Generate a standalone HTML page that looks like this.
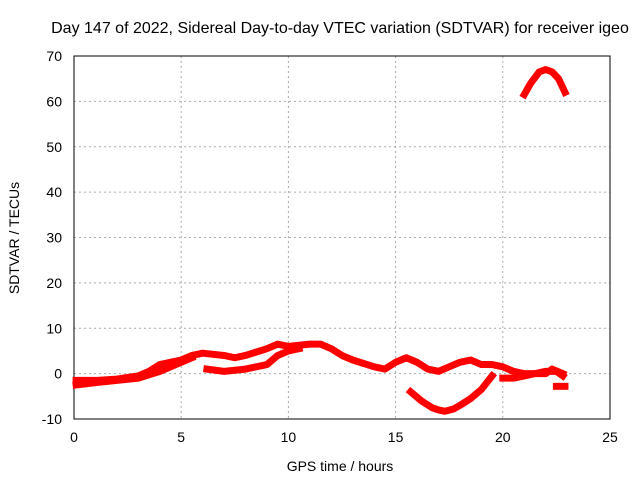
<!DOCTYPE html>
<html><head><meta charset="utf-8"><style>
body{margin:0;background:#fff}
svg{display:block;font-family:"Liberation Sans",sans-serif;font-size:14px}
</style></head><body>
<svg id="c" width="640" height="480"></svg>
<script>
const xTicks=[0,5,10,15,20,25];
const yTicks=[-10,0,10,20,30,40,50,60,70];
const trackMainX=[0.1,1,2,3,3.5,4,5,5.5,6,7,7.5,8,9,9.5,10,11,11.5,12,12.5,13,14,14.5,15,15.5,16,16.5,17,17.5,18,18.5,19,19.5,20,20.5,21,21.5,22,22.5,22.8];
const trackMainY=[-1.5,-1.5,-1.2,-0.5,0.5,2,3,4,4.5,4,3.5,4,5.5,6.5,6,6.5,6.5,5.5,4,3,1.5,1,2.5,3.5,2.5,1,0.5,1.5,2.5,3,2,2,1.5,0.5,0,0,0.5,0.5,-0.5];
const trackLowX=[0.1,1,2,3,4,5,5.5];
const trackLowY=[-2.5,-2,-1.5,-1,0.5,2.5,3.5];
const trackMidX=[6.2,7,8,9,9.5,10,10.5];
const trackMidY=[1,0.5,1,2,4,5,5.5];
const trackEndX=[20,20.5,21,21.5,22,22.3,22.8];
const trackEndY=[-1,-1,-0.5,0,0,1,0];
const trackDipX=[15.7,16.2,16.7,17,17.3,17.7,18,18.5,19,19.5];
const trackDipY=[-4,-6,-7.5,-8,-8.3,-7.8,-7,-5.5,-3.5,-0.5];
const trackArcX=[21,21.3,21.7,22,22.3,22.6,22.9];
const trackArcY=[61.5,64,66.5,67,66.5,65,62];
const trackTailX=[22.5,22.9];
const trackTailY=[-2.8,-2.8];
const L=74,R=610,T=56,B=419;
const sx=v=>L+(v-0)/25*(R-L);
const sy=v=>B-(v+10)/80*(B-T);
const s=document.getElementById('c');const NS='http://www.w3.org/2000/svg';
function mk(t,a,txt){const e=document.createElementNS(NS,t);for(const k in a)e.setAttribute(k,a[k]);if(txt!=null)e.textContent=txt;s.appendChild(e);return e;}
xTicks.forEach(v=>{const g=mk('line',{x1:sx(v),x2:sx(v),y1:T,y2:B,stroke:'#aaa','stroke-dasharray':'2,3'});


const t=mk('text',{x:sx(v),y:B+23,'text-anchor':'middle'},v);

});
yTicks.forEach(v=>{const g=mk('line',{x1:L,x2:R,y1:sy(v),y2:sy(v),stroke:'#aaa','stroke-dasharray':'2,3'});


const t=mk('text',{x:L-12,y:sy(v)+5,'text-anchor':'end'},v);

});
const fr=mk('rect',{x:L,y:T,width:R-L,height:B-T,fill:'none',stroke:'#000'});


[[trackMainX,trackMainY],[trackLowX,trackLowY],[trackMidX,trackMidY],[trackEndX,trackEndY],[trackDipX,trackDipY],[trackArcX,trackArcY],[trackTailX,trackTailY]].forEach(([xs,ys])=>{
const p=mk('polyline',{points:xs.map((x,i)=>sx(x)+','+sy(ys[i])).join(' '),fill:'none',stroke:'#f00','stroke-width':7,'stroke-linejoin':'round','stroke-linecap':'square'});

});
const ti=mk('text',{x:340,y:33,'text-anchor':'middle','font-size':'16px'},'Day 147 of 2022, Sidereal Day-to-day VTEC variation (SDTVAR) for receiver igeo');


const xl=mk('text',{x:340,y:471,'text-anchor':'middle'},'GPS time / hours');


const yl=mk('text',{x:0,y:0,'text-anchor':'middle',transform:'translate(19,238) rotate(-90)'},'SDTVAR / TECUs');


</script>
</body></html>
